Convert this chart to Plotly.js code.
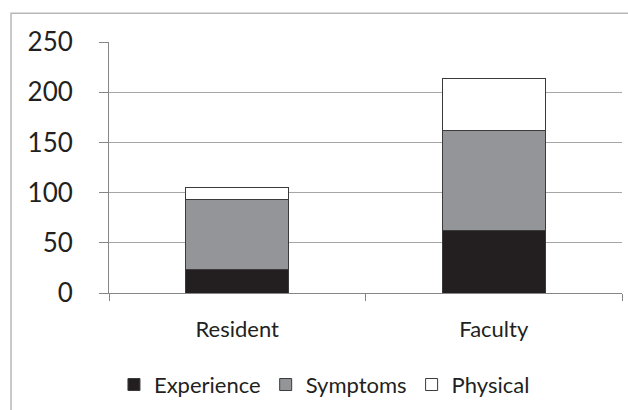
<!DOCTYPE html>
<html>
<head>
<meta charset="utf-8">
<script src="https://cdn.plot.ly/plotly-3.0.1.min.js"></script>
<style>html,body{margin:0;padding:0;background:#fff;}#chart{width:628px;height:410px;}</style>
</head>
<body>
<div id="chart"></div>
<script>
const categories = ["Resident", "Faculty"];
const experience = [23, 62];
const symptoms = [70, 100];
const physical = [12, 52];
const yTicks = [0, 50, 100, 150, 200, 250];

const lineStyle = {color: "#3a3a3a", width: 1};
const traces = [
  {type: "bar", name: "Experience", x: categories, y: experience, marker: {color: "#231f20", line: lineStyle}},
  {type: "bar", name: "Symptoms", x: categories, y: symptoms, marker: {color: "#939598", line: lineStyle}},
  {type: "bar", name: "Physical", x: categories, y: physical, marker: {color: "#ffffff", line: lineStyle}}
];

const fontFam = "Lato, 'Open Sans', sans-serif";
const txt = "#231f20";
const layout = {
  width: 628, height: 410,
  margin: {l: 109, r: 6, t: 42, b: 116},
  paper_bgcolor: "#fff", plot_bgcolor: "#fff",
  barmode: "stack", bargap: 0.6,
  font: {family: fontFam, color: txt},
  showlegend: true,
  legend: {orientation: "h", x: 0.42, xanchor: "center", y: -0.36, yanchor: "middle",
           font: {size: 22, family: fontFam, color: txt}, traceorder: "normal", itemwidth: 30},
  xaxis: {type: "category", tickson: "boundaries", ticks: "outside", ticklen: 7, tickcolor: "#868686",
          showline: true, linecolor: "#868686", linewidth: 1, showgrid: false,
          tickfont: {size: 22, family: fontFam, color: txt}, ticklabelstandoff: 17, fixedrange: true},
  yaxis: {range: [0, 250], tickvals: yTicks, ticks: "outside", ticklen: 9, tickcolor: "#868686",
          showline: true, linecolor: "#868686", linewidth: 1, showgrid: true, gridcolor: "#a6a6a6", gridwidth: 1,
          zeroline: false, tickfont: {size: 26, family: fontFam, color: txt}, ticklabelstandoff: 21, fixedrange: true},
  shapes: [{type: "rect", xref: "paper", yref: "paper", x0: -0.191, x1: 1.3, y0: -0.6, y1: 1.115,
            line: {color: "#b8b8b8", width: 1.5}, fillcolor: "rgba(0,0,0,0)", layer: "below"}]
};

Plotly.newPlot("chart", traces, layout, {displayModeBar: false, staticPlot: true});
</script>
</body>
</html>
